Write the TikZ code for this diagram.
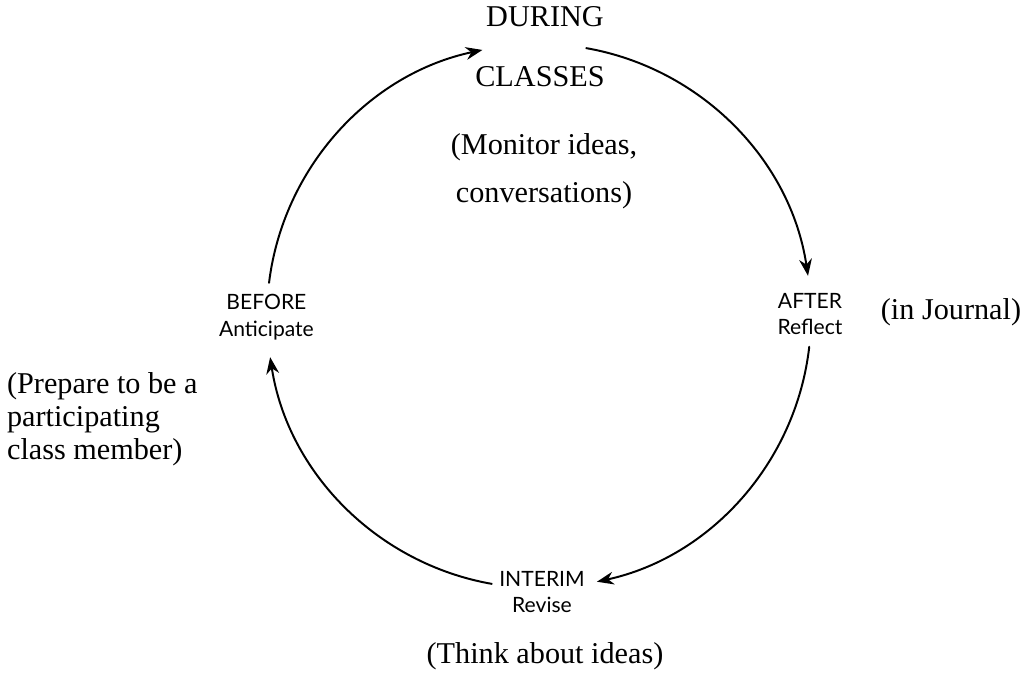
\documentclass[tikz,border=0pt]{standalone}
\usepackage{fontspec}
\setmainfont{Liberation Serif}
\newfontfamily\stagefont{Lato}
\usetikzlibrary{arrows.meta}

\begin{document}
\begin{tikzpicture}[line cap=round,>={Stealth[length=4.2mm,width=3.2mm]},
    stage/.style={align=center,inner sep=1pt,font=\stagefont\fontsize{15}{19}\selectfont},
    note/.style={align=center,inner sep=1pt,font=\fontsize{21.5}{34}\selectfont},
    cycle/.style={->,line width=1.4pt}]
            \useasboundingbox (0,0) rectangle (25.7,17.025);

            % centre of the cycle
            \coordinate (c) at (13.475,9.125);

            % the four stages
            \node[note] (during) at (13.625,16.6) {DURING};
            \node[note] (classes) at (13.5,15.1) {CLASSES};
            \node[stage] (after) at (20.25,9.175) {AFTER\\Reflect};
            \node[stage] (interim) at (13.55,2.225) {INTERIM\\Revise};
            \node[stage] (before) at (6.66,9.1) {BEFORE\\Anticipate};

            % comments in brackets
            \node[note] (monitor) at (13.6,12.75) {(Monitor ideas,\\conversations)};
            \node[note] (journal) at (23.775,9.225) {(in Journal)};
            \node[note] (think) at (13.625,0.62) {(Think about ideas)};
            \node[note,align=left,anchor=west,inner sep=0pt,font=\fontsize{21.5}{23.4}\selectfont]
                (prepare) at (0.17,6.55) {(Prepare to be a\\participating\\class member)};

            % arcs of the cycle
            \draw[cycle] (c) ++(173:6.8) coordinate (before out) arc (173:102:6.8) coordinate (during in);
            \draw[cycle] (c) ++(80:6.8) coordinate (during out) arc (80:8.5:6.8) coordinate (after in);
            \draw[cycle] (c) ++(-6.5:6.8) coordinate (after out) arc (-6.5:-77.7:6.8) coordinate (interim in);
            \draw[cycle] (c) ++(-100:6.8) coordinate (interim out) arc (-100:-171.3:6.8) coordinate (before in);
        \end{tikzpicture}
\end{document}
